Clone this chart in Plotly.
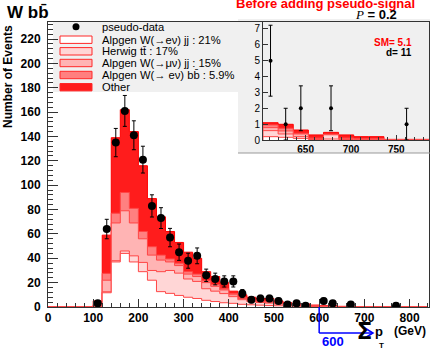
import numpy as np
import plotly.graph_objects as go

# main histogram: 20 GeV bins from 100 to 840 GeV
bin_start = 100
bin_width = 20
w_enu_jj = [0.3, 11.7, 37, 44, 37, 29, 22, 12.6, 11.2, 9.5, 8, 7, 5.5, 4.5, 3.5, 3, 2.2, 1.8, 1.5, 1.2,
            1, 0.8, 0.6, 0.5, 0.4, 0.2, 0.2, 0.1, 0.1, 0.05, 0.05, 0, 0, 0, 0, 0, 0]
ttbar = [0.3, 0.8, 1, 2, 5, 7.6, 8, 16.4, 18.8, 18.3, 15, 14, 9.5, 8.5, 7.5, 5.5, 3.8, 2.7, 2.2, 2,
         1.4, 0.8, 0.6, 0.5, 0.3, 0.3, 0.2, 0.1, 0.2, 0.05, 0.05, 0.03, 0.03, 0.01, 0.01, 0.01, 0.01]
w_munu_jj = [0.9, 9.5, 31, 33, 27, 19.4, 12.6, 9.5, 7, 6.2, 4, 4, 5, 4, 3, 1.5, 1, 1, 0.8, 0.8,
             0.6, 0.4, 0.3, 0.2, 0.2, 0.2, 0.2, 0.1, 0.02, 0.02, 0.01, 0.01, 0.01, 0.01, 0.01, 0.01, 0.01]
w_enu_bb = [0.5, 5.6, 8, 15, 12, 6, 6.9, 4.1, 2.5, 2, 2, 2, 1.5, 1.5, 1, 1, 0.8, 0.7, 0.5, 0.5,
            0.4, 0.3, 0.3, 0.2, 0.1, 0.2, 0.1, 0.05, 0.03, 0.02, 0.02, 0.02, 0, 0, 0, 0, 0]
other = [3, 31.4, 62, 68, 63, 54, 39.5, 31.4, 22.5, 17, 16, 13, 7.5, 6.5, 5, 2, 2.2, 1.8, 2, 2.5,
         1.6, 1.2, 0.7, 1.1, 0.6, 0.3, 0.3, 0.2, 0.2, 0.2, 0.15, 0.1, 0.1, 0.02, 0.02, 0.02, 0.02]

data_x = [110, 130, 150, 170, 190, 210, 230, 250, 270, 290, 310, 330, 350, 370, 390, 410,
          430, 450, 470, 490, 510, 530, 550, 570, 610, 630, 670, 770]
data_n = [3, 64, 135, 161, 141, 121, 83, 73, 57, 45, 38, 42, 26, 23, 21, 21,
          11, 6, 7, 7, 5, 2, 3, 1, 5, 3, 2, 1]

# inset: 12 bins from 603 to 803 GeV
ins_start = 603
ins_width = 200 / 12
ins_enu_jj = [0.21, 0.17, 0.1, 0.03, 0.06, 0.03, 0.02, 0.02, 0, 0, 0, 0]
ins_ttbar = [0.38, 0.21, 0.11, 0.04, 0.27, 0.05, 0.03, 0.03, 0.01, 0.01, 0.01, 0.01]
ins_munu_jj = [0.19, 0.19, 0.17, 0.02, 0.02, 0.02, 0.01, 0.01, 0.01, 0.01, 0.01, 0.01]
ins_enu_bb = [0.17, 0.17, 0.04, 0.03, 0.01, 0.02, 0.02, 0.02, 0, 0, 0, 0]
ins_other = [0.14, 0.25, 0.21, 0.2, 0.12, 0.2, 0.13, 0.13, 0.02, 0.02, 0.02, 0.02]
ins_data_x = [611.3, 628, 644.7, 678, 761.3]
ins_data_n = [5, 1, 2, 2, 1]

x_ticks = [0, 100, 200, 300, 400, 500, 600, 700, 800]
y_ticks = list(range(0, 221, 20))
ins_x_ticks = [650, 700, 750]
ins_y_ticks = list(range(0, 8))

legend_labels = ["pseudo-data", "Alpgen W(\u2192e\u03bd) jj : 21%", "Herwig tt\u0304 : 17%",
                 "Alpgen W(\u2192\u03bc\u03bd) jj : 15%", "Alpgen W(\u2192 e\u03bd) bb\u0304 : 5.9%", "Other"]
signal_cut = 600
sm_expected = 5.1
d_observed = 11
p_value = 0.2

fills = ["white", "rgb(255,214,214)", "rgb(255,180,180)", "rgb(255,128,128)", "rgb(255,28,28)"]
lines = ["rgb(255,70,70)", "rgb(255,70,70)", "rgb(255,70,70)", "rgb(255,70,70)", "rgb(255,0,0)"]


def step(x_from, start, width, vals):
    vals = np.asarray(vals, dtype=float)
    edges = start + width * np.arange(len(vals) + 1)
    x = np.concatenate([[x_from], edges, [edges[-1]]])
    y = np.concatenate([[0], vals, [vals[-1]], [0]])
    return x, y


fig = go.Figure()

# stacked histograms, drawn top layer first
for layers, x_from, start, width, xa, ya in [
    ([w_enu_jj, ttbar, w_munu_jj, w_enu_bb, other], 0, bin_start, bin_width, "x", "y"),
    ([ins_enu_jj, ins_ttbar, ins_munu_jj, ins_enu_bb, ins_other], ins_start, ins_start, ins_width, "x2", "y2"),
]:
    cum = np.cumsum(np.array(layers, dtype=float), axis=0)
    for i in range(4, -1, -1):
        x, y = step(x_from, start, width, cum[i])
        fig.add_trace(go.Scatter(x=x, y=y, mode="lines", xaxis=xa, yaxis=ya,
                                 line=dict(shape="hv", color=lines[i], width=1),
                                 fill="tozeroy", fillcolor=fills[i], hoverinfo="skip"))

fig.add_trace(go.Scatter(x=data_x, y=data_n, mode="markers",
                         marker=dict(color="black", size=8),
                         error_y=dict(type="data", array=np.sqrt(data_n), color="black",
                                      thickness=1, width=2)))
fig.add_trace(go.Scatter(x=ins_data_x, y=ins_data_n, mode="markers", xaxis="x2", yaxis="y2",
                         marker=dict(color="black", size=4),
                         error_y=dict(type="data", array=np.sqrt(ins_data_n), color="black",
                                      thickness=1, width=2)))


def px(x):
    return (x - 48) / 381


def py(y):
    return (307 - y) / 285


bold = dict(family="Liberation Sans", size=12, color="black", weight="bold")
axis_col = "#333"

fig.update_layout(
    width=430, height=349,
    margin=dict(l=48, r=1, t=22, b=42),
    paper_bgcolor="white", plot_bgcolor="rgba(0,0,0,0)",
    showlegend=False,
    font=dict(family="Liberation Sans", color="black"),
    xaxis=dict(domain=[0, 1], range=[0, 843], tickvals=x_ticks, ticks="inside", ticklen=8,
               tickcolor=axis_col, tickfont=bold, showline=True, linecolor=axis_col, mirror=True,
               showgrid=False, zeroline=False,
               minor=dict(dtick=20, ticks="inside", ticklen=4, tickcolor=axis_col)),
    yaxis=dict(domain=[0, 1], range=[0, 234], tickvals=y_ticks, ticks="inside", ticklen=10,
               tickcolor=axis_col, tickfont=bold, showline=True, linecolor=axis_col, mirror=True,
               showgrid=False, zeroline=False, ticklabelstandoff=4,
               minor=dict(dtick=4, ticks="inside", ticklen=5, tickcolor=axis_col)),
    xaxis2=dict(domain=[px(263), 1], anchor="y2", range=[603, 786], tickvals=ins_x_ticks,
                ticks="inside", ticklen=5, tickcolor=axis_col,
                tickfont=dict(family="Liberation Sans", size=10, color="black", weight="bold"),
                showline=True, linecolor=axis_col, showgrid=False, zeroline=False,
                minor=dict(dtick=10, ticks="inside", ticklen=3, tickcolor=axis_col)),
    yaxis2=dict(domain=[py(140), 1], anchor="x2", range=[0, 7.44], tickvals=ins_y_ticks,
                ticks="inside", ticklen=5, tickcolor=axis_col,
                tickfont=dict(family="Liberation Sans", size=10, color="black"),
                showline=True, linecolor=axis_col, showgrid=False, zeroline=False),
)

pad_grey = "#f0f0f0"
shapes = [
    dict(type="rect", xref="paper", yref="paper", x0=px(238), x1=px(430), y0=py(153), y1=py(19),
         fillcolor=pad_grey, line=dict(width=0), layer="below"),
    dict(type="line", xref="paper", yref="paper", x0=px(238), x1=px(430), y0=py(153), y1=py(153),
         line=dict(color="#999", width=1)),
    dict(type="rect", xref="paper", yref="paper", x0=px(53), x1=px(240), y0=py(92), y1=py(22),
         fillcolor=pad_grey, line=dict(width=0), layer="below"),
    dict(type="circle", xref="paper", yref="paper", x0=px(72.5), x1=px(79.5), y0=py(30.2), y1=py(23.2),
         fillcolor="black", line=dict(width=0)),
]
rows = [39.7, 51.3, 63, 75, 87.2]
for i, yc in enumerate(rows):
    shapes.append(dict(type="rect", xref="paper", yref="paper", x0=px(60), x1=px(92),
                       y0=py(yc + 3.7), y1=py(yc - 3.7), fillcolor=fills[i],
                       line=dict(color="rgb(255,40,40)", width=1)))

# blue arrow marking the signal region
shapes.append(dict(type="line", xref="x", yref="paper", x0=signal_cut, x1=signal_cut,
                   y0=0, y1=py(333), line=dict(color="blue", width=1.5)))
shapes.append(dict(type="line", xref="x", yref="paper", x0=signal_cut, x1=717,
                   y0=py(333), y1=py(333), line=dict(color="blue", width=1.5)))
shapes.append(dict(type="path", xref="paper", yref="paper",
                   path=f"M {px(364)} {py(327.5)} L {px(373)} {py(333)} L {px(364)} {py(338.5)}",
                   line=dict(color="blue", width=1.5)))
fig.update_layout(shapes=shapes)

ann = []
for lab, yc in zip(legend_labels, [26.7] + rows):
    ann.append(dict(text=lab, x=px(100), y=py(yc), xref="paper", yref="paper", xanchor="left",
                    yanchor="middle", showarrow=False,
                    font=dict(family="Liberation Sans", size=11.2, color="black")))

ann += [
    dict(text="W bb\u0304", x=px(5), y=py(13), xanchor="left", yanchor="middle",
         font=dict(family="Liberation Sans", size=17, color="black", weight="bold")),
    dict(text="Number of Events", x=px(8), y=py(77), textangle=-90, xanchor="center", yanchor="middle",
         font=dict(family="Liberation Sans", size=12, color="black", weight="bold")),
    dict(text="Before adding pseudo-signal", x=px(325), y=py(3), xanchor="center", yanchor="middle",
         font=dict(family="Liberation Sans", size=13, color="red", weight="bold")),
    dict(text=f'<span style="font-family:Liberation Serif"><i>P</i></span><b> = {p_value}</b>',
         x=px(376), y=py(15), xanchor="center", yanchor="middle",
         font=dict(family="Liberation Sans", size=13, color="black")),
    dict(text=f"SM= {sm_expected}", x=px(414), y=py(42), xanchor="right", yanchor="middle",
         font=dict(family="Liberation Sans", size=10, color="red", weight="bold")),
    dict(text=f"d= {d_observed}", x=px(414), y=py(52), xanchor="right", yanchor="middle",
         font=dict(family="Liberation Sans", size=10, color="black", weight="bold")),
    dict(text=str(signal_cut), x=px(333), y=py(341), xanchor="center", yanchor="middle",
         font=dict(family="Liberation Sans", size=13, color="blue", weight="bold")),
    # x-axis title: sum sign, p, subscript T and unit
    dict(text="<b>\u03a3</b>", x=px(373), y=py(330), xanchor="right", yanchor="middle",
         font=dict(family="Noto Sans", size=23, color="rgb(0,0,0)")),
    dict(text="p", x=px(379), y=py(331), xanchor="center", yanchor="middle",
         font=dict(family="Liberation Sans", size=13, color="black", weight="bold")),
    dict(text="T", x=px(381), y=py(345), xanchor="center", yanchor="middle",
         font=dict(family="Liberation Sans", size=8, color="black", weight="bold")),
    dict(text="(GeV)", x=px(410), y=py(331), xanchor="center", yanchor="middle",
         font=dict(family="Liberation Sans", size=12, color="black", weight="bold")),
]
for a in ann:
    a.setdefault("xref", "paper")
    a.setdefault("yref", "paper")
    a.setdefault("showarrow", False)
fig.update_layout(annotations=ann)

# the page's default 8px body margin would push the 430x349 figure out of the window
fig.write_html("out.html", config={"displayModeBar": False},
               post_script="document.body.style.margin='0';")
